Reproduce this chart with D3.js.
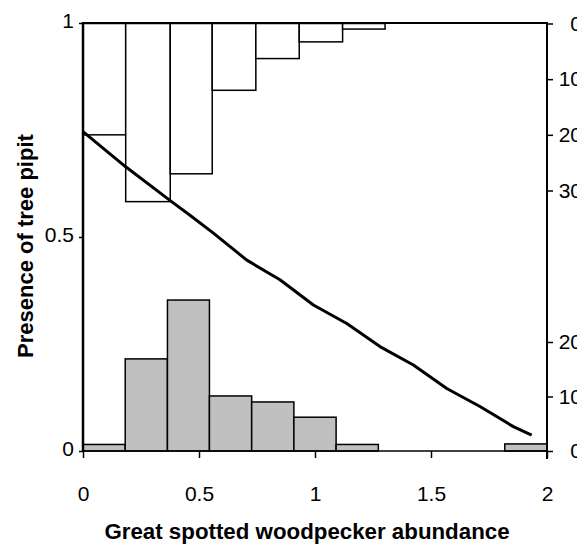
<!DOCTYPE html>
<html lang="en">
<head>
    <meta charset="UTF-8">
    <title>Tree pipit vs woodpecker</title>
    <script src="https://cdn.jsdelivr.net/npm/d3@7"></script>
    <style>
        body { margin: 0; background: #fff; }
        text { font-family: "Liberation Sans", Arial, sans-serif; }
    </style>
</head>
<body>
<script type="application/javascript">

    let w = 577, h = 544;

    // presence = 1 histogram (hangs from the top), bin edges and counts
    let presentEdges = [0, 0.184, 0.376, 0.557, 0.745, 0.932, 1.119, 1.302];
    let presentCounts = [20, 32, 27, 12, 6.3, 3.3, 1];

    // presence = 0 histogram (stands on the bottom)
    let absentEdges = [0, 0.182, 0.364, 0.545, 0.727, 0.909, 1.091, 1.273, 1.455, 1.636, 1.818, 2.0];
    let absentCounts = [1.2, 16.9, 27.7, 10.1, 9.0, 6.2, 1.2, 0, 0, 0, 1.3];

    // fitted curve
    let curveX = [0, 0.184, 0.376, 0.461, 0.562, 0.706, 0.849, 0.993, 1.137, 1.280, 1.424, 1.568, 1.711, 1.855, 1.934];
    let curveY = [0.746, 0.664, 0.585, 0.551, 0.509, 0.446, 0.400, 0.341, 0.298, 0.244, 0.201, 0.146, 0.104, 0.057, 0.037];

    let xTicks = [0, 0.5, 1, 1.5, 2];
    let leftTicks = [0, 0.5, 1];
    let topTicks = [0, 10, 20, 30];
    let bottomTicks = [0, 10, 20];

    let x = d3.scaleLinear().domain([0, 2]).range([83, 547]);
    let y = d3.scaleLinear().domain([0, 1]).range([451, 23]);
    let yTop = d3.scaleLinear().domain([0, 30]).range([23.5, 190.5]);
    let yBot = d3.scaleLinear().domain([0, 20]).range([451, 342]);

    let svg = d3.select('body')
        .append('svg')
        .attr('width', w)
        .attr('height', h);

    // bars hanging from the top
    svg.append('g')
        .selectAll('rect')
        .data(presentCounts)
        .enter()
        .append('rect')
        .attr('x', (d, i) => x(presentEdges[i]))
        .attr('width', (d, i) => x(presentEdges[i + 1]) - x(presentEdges[i]))
        .attr('y', yTop(0))
        .attr('height', d => yTop(d) - yTop(0))
        .attr('fill', 'white')
        .attr('stroke', 'black')
        .attr('stroke-width', 1.5);

    // bars on the bottom
    let absentBins = absentCounts.map((c, i) => ({ c: c, x0: absentEdges[i], x1: absentEdges[i + 1] }))
        .filter(d => d.c > 0);

    svg.append('g')
        .selectAll('rect')
        .data(absentBins)
        .enter()
        .append('rect')
        .attr('x', d => x(d.x0))
        .attr('width', d => x(d.x1) - x(d.x0))
        .attr('y', d => yBot(d.c))
        .attr('height', d => yBot(0) - yBot(d.c))
        .attr('fill', '#c0c0c0')
        .attr('stroke', 'black')
        .attr('stroke-width', 1.5);

    // frame lines
    svg.append('line').attr('x1', 83).attr('x2', 547).attr('y1', 23).attr('y2', 23)
        .attr('stroke', 'black').attr('stroke-width', 2);
    svg.append('line').attr('x1', 83).attr('x2', 547).attr('y1', 451).attr('y2', 451)
        .attr('stroke', 'black').attr('stroke-width', 1.5);
    svg.append('line').attr('x1', 83).attr('x2', 83).attr('y1', 22).attr('y2', 452)
        .attr('stroke', 'black').attr('stroke-width', 2.5);
    svg.append('line').attr('x1', 547).attr('x2', 547).attr('y1', 22).attr('y2', 459)
        .attr('stroke', 'black').attr('stroke-width', 2);

    let font = '"Liberation Sans", Arial, sans-serif';

    // x axis
    let xAxis = svg.append('g')
        .attr('transform', 'translate(0,451)')
        .call(d3.axisBottom(x).tickValues(xTicks).tickSize(7).tickPadding(28)
            .tickFormat(d3.format('')));
    xAxis.select('.domain').remove();
    xAxis.selectAll('line').attr('stroke-width', 1.5);
    xAxis.selectAll('text').attr('font-size', 21).attr('fill', 'black')
        .attr('font-family', font);

    // left axis
    let yAxis = svg.append('g')
        .attr('transform', 'translate(83,0)')
        .call(d3.axisLeft(y).tickValues(leftTicks).tickSize(4).tickPadding(5)
            .tickFormat(d3.format('')));
    yAxis.select('.domain').remove();
    yAxis.selectAll('line').attr('stroke-width', 1.5);
    yAxis.selectAll('text').attr('font-size', 21).attr('fill', 'black').attr('dy', '0.22em')
        .attr('font-family', font);

    // right axes, upper and lower histogram counts (labels run off the edge, as in the original)
    [[yTop, topTicks], [yBot, bottomTicks]].forEach(function (a) {
        let g = svg.append('g')
            .attr('transform', 'translate(547,0)')
            .call(d3.axisRight(a[0]).tickValues(a[1]).tickSize(6).tickPadding(8));
        g.select('.domain').remove();
        g.selectAll('line').attr('stroke-width', 1.5);
        g.selectAll('text').attr('font-size', 21).attr('fill', 'black')
            .attr('x', 35).attr('text-anchor', 'end')
            .attr('font-family', font);
    });

    // fitted curve
    let line = d3.line()
        .x(d => x(d[0]))
        .y(d => y(d[1]));

    svg.append('path')
        .datum(curveX.map((v, i) => [v, curveY[i]]))
        .attr('d', line)
        .attr('fill', 'none')
        .attr('stroke', 'black')
        .attr('stroke-width', 3)
        .attr('stroke-linejoin', 'round');

    // titles
    svg.append('text')
        .attr('x', 307)
        .attr('y', 539)
        .attr('text-anchor', 'middle')
        .attr('font-size', 22.3)
        .attr('font-weight', 'bold')
        .text('Great spotted woodpecker abundance');

    svg.append('text')
        .attr('transform', 'translate(32.5,246) rotate(-90)')
        .attr('text-anchor', 'middle')
        .attr('font-size', 22)
        .attr('font-weight', 'bold')
        .text('Presence of tree pipit');

</script>
</body>
</html>
